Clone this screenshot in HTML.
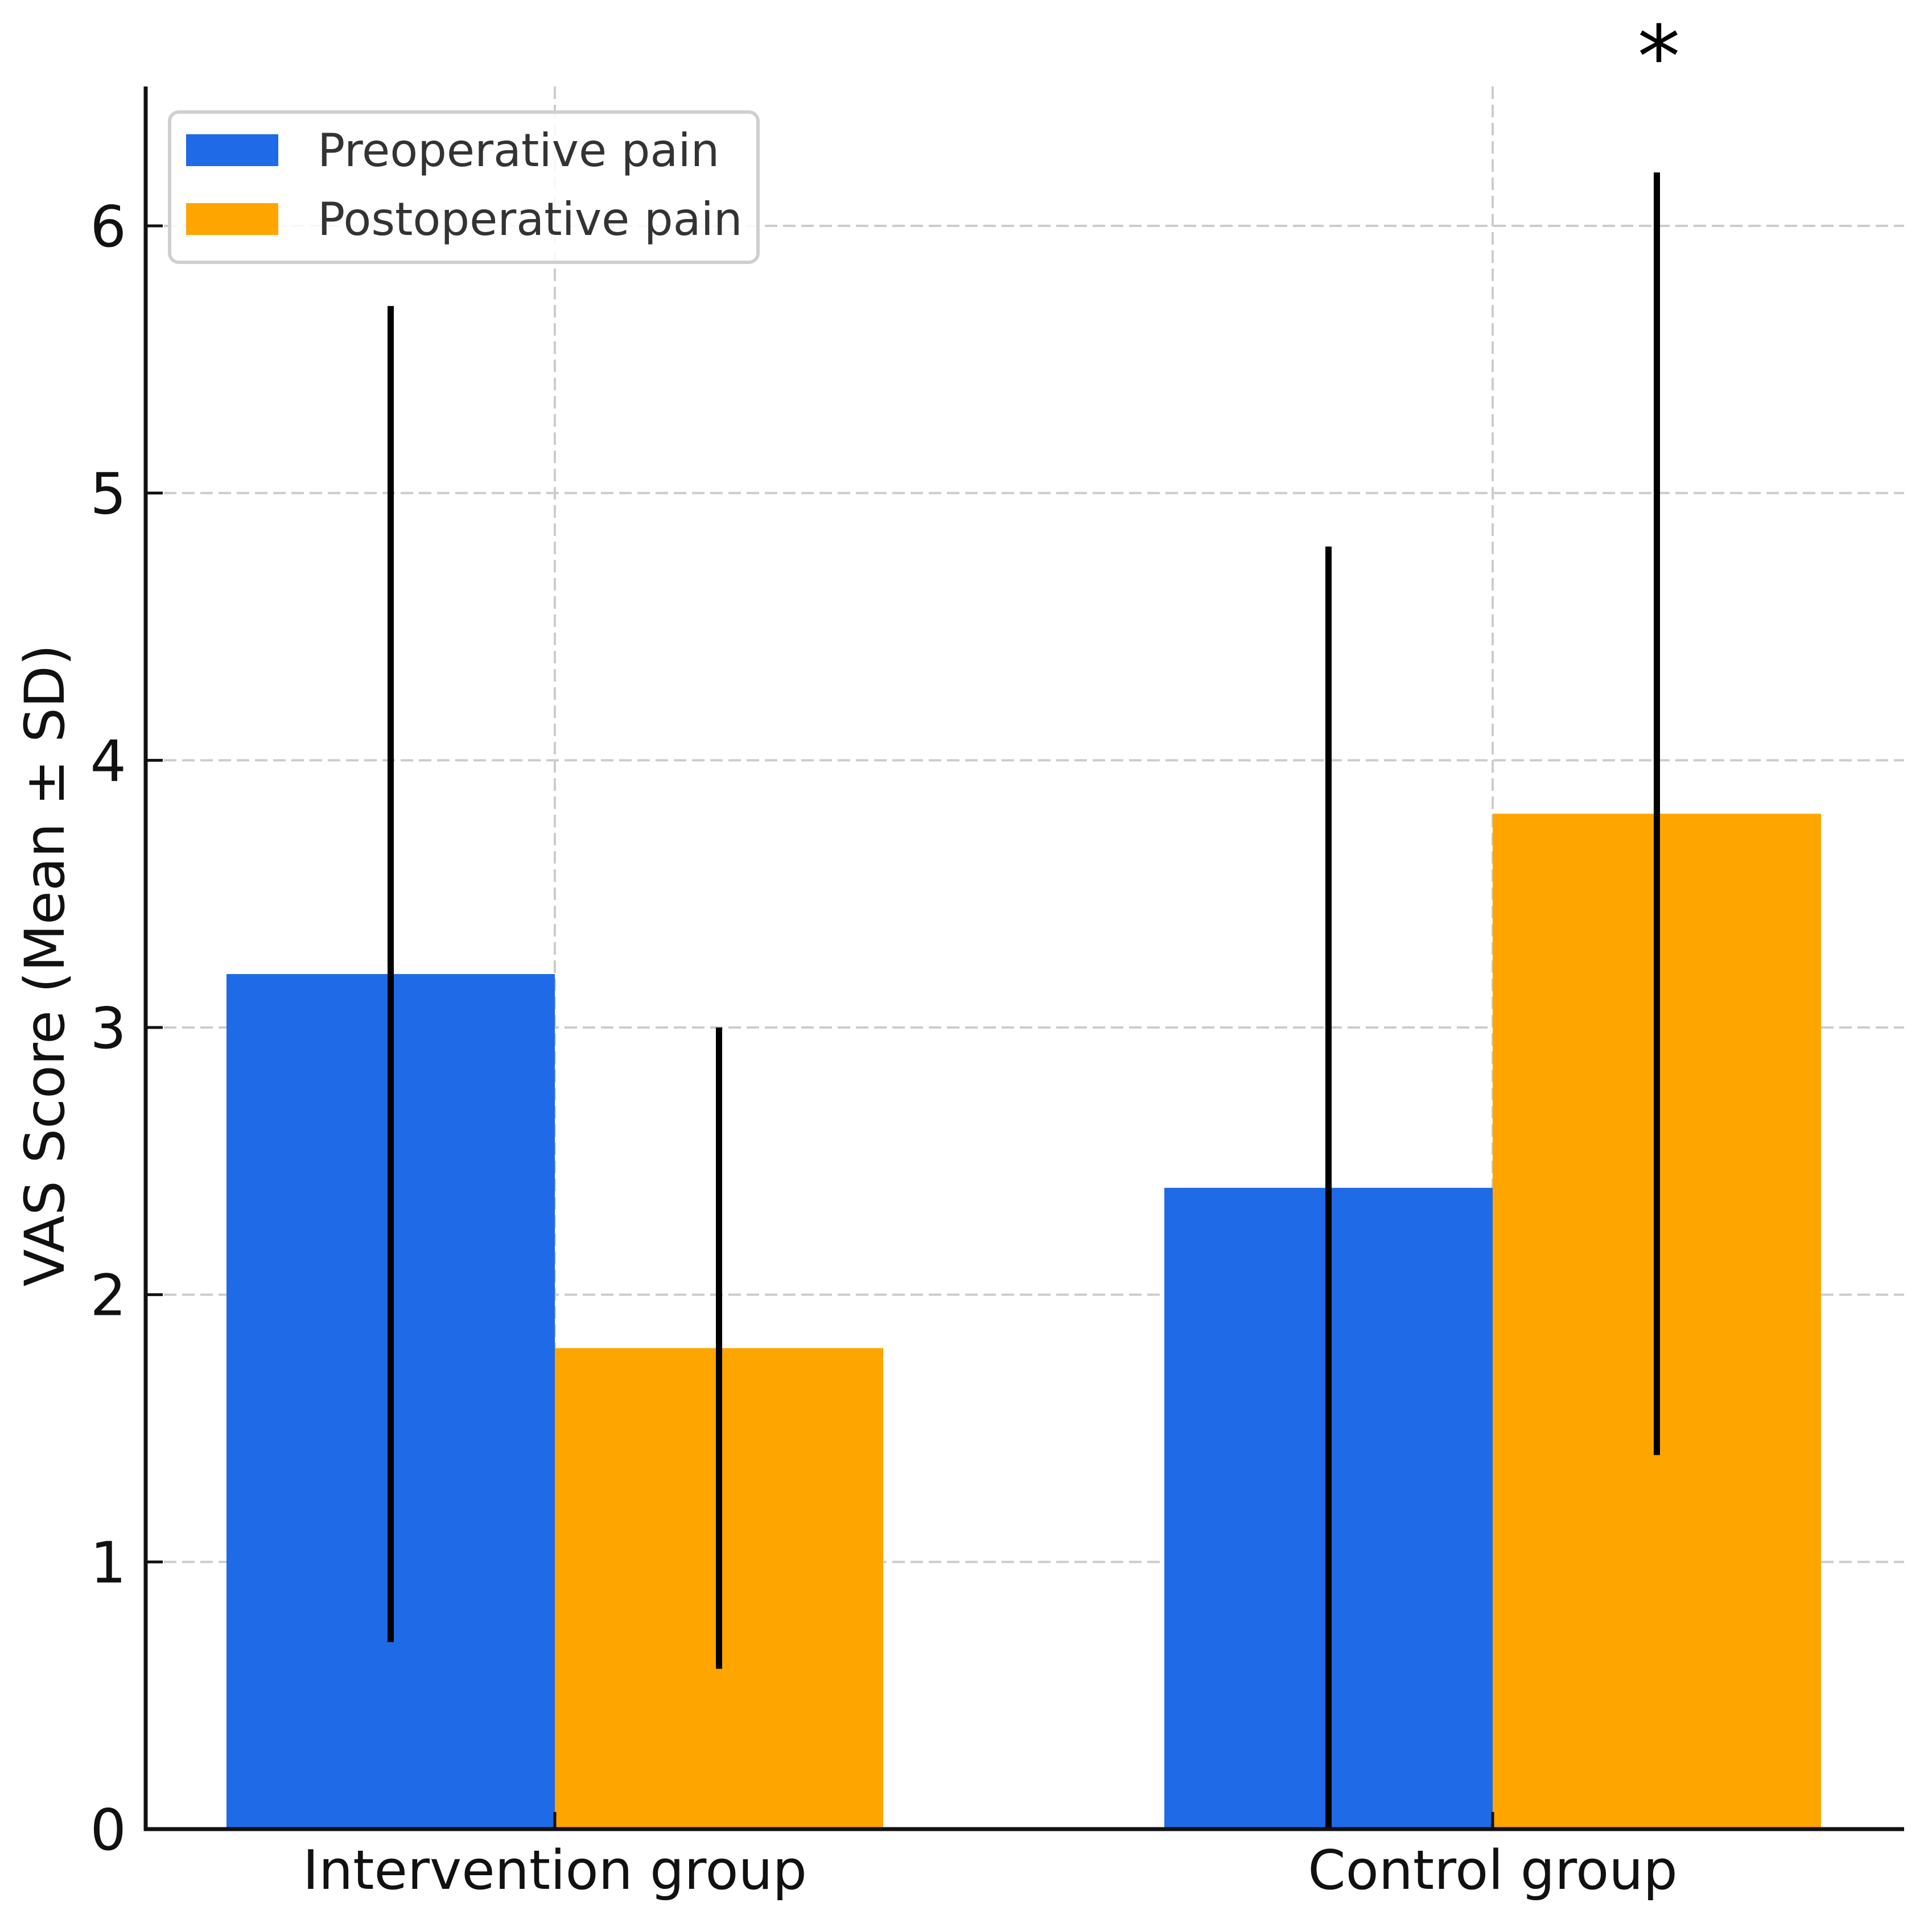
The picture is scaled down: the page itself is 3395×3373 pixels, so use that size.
<!DOCTYPE html>
<html><head><meta charset="utf-8"><style>
html,body{margin:0;padding:0;background:#fff;}
svg{display:block;font-family:"DejaVu Sans","Liberation Sans",sans-serif;}
</style></head><body>
<svg id="chart" width="3395" height="3373" viewBox="0 0 3395 3373" xmlns="http://www.w3.org/2000/svg">
<g id="grid"></g>
<g id="bars"></g>
<g id="errs"></g>
<g id="axes"></g>
<text x="2915" y="152" font-size="150" text-anchor="middle" fill="#000">*</text>
<text transform="translate(112,1697) rotate(-90)" font-size="96" text-anchor="middle" fill="#111">VAS Score (Mean ± SD)</text>
<g>
<rect x="298" y="197" width="1034" height="264" rx="16" fill="#fff" fill-opacity="0.85" stroke="#cfcfcf" stroke-width="6"/>
<rect x="327" y="236" width="162" height="56" fill="#1f6ae6"/>
<text x="558" y="292" font-size="80" fill="#333">Preoperative pain</text>
<rect x="327" y="357" width="162" height="56" fill="#ffa500"/>
<text x="558" y="413" font-size="80" fill="#333">Postoperative pain</text>
</g>
</svg>
<script>
const categories = ["Intervention group", "Control group"];
const preMeans = [3.2, 2.4];
const preSD = [2.5, 2.4];
const postMeans = [1.8, 3.8];
const postSD = [1.2, 2.4];
const yTicks = [0, 1, 2, 3, 4, 5, 6];

const NS = "http://www.w3.org/2000/svg";
const x0 = 256, x1 = 3346, yZero = 3215, yTop = 152;
const unitY = (yZero - 397) / 6;
const y = v => yZero - v * unitY;
const xc = i => 975 + i * 1648;
const barW = 577;
function mk(tag, attrs, parent) {
  const e = document.createElementNS(NS, tag);
  for (const k in attrs) e.setAttribute(k, attrs[k]);
  parent.appendChild(e);
  return e;
}
const grid = document.getElementById("grid");
const bars = document.getElementById("bars");
const errs = document.getElementById("errs");
const axes = document.getElementById("axes");

yTicks.forEach(t => {
  if (t > 0) {
    const g = mk("line", {x1: x0, x2: x1, y1: y(t), y2: y(t), stroke: "#cccccc", "stroke-width": 4, "stroke-dasharray": "22 10"}, grid);
    
    
  }
  const tk = mk("line", {x1: x0, x2: x0 + 30, y1: y(t), y2: y(t), stroke: "#111", "stroke-width": 5}, axes);
  
  
  const lb = mk("text", {x: 222, y: y(t) + 36, "font-size": 100, "text-anchor": "end", fill: "#111"}, axes);
  lb.textContent = t;
  
  
});
categories.forEach((c, i) => {
  const g = mk("line", {x1: xc(i), x2: xc(i), y1: yTop, y2: yZero, stroke: "#cccccc", "stroke-width": 4, "stroke-dasharray": "22 10"}, grid);
  
  
  const series = [[preMeans, preSD, "#1f6ae6", "pre", -1], [postMeans, postSD, "#ffa500", "post", 0]];
  series.forEach(s => {
    const left = xc(i) + s[4] * barW;
    const b = mk("rect", {x: left, y: y(s[0][i]), width: barW, height: y(0) - y(s[0][i]), fill: s[2]}, bars);
    
    
    const cx = left + barW / 2;
    const e = mk("line", {x1: cx, x2: cx, y1: y(s[0][i] + s[1][i]), y2: y(Math.max(0, s[0][i] - s[1][i])), stroke: "#000", "stroke-width": 11}, errs);
    
    
  });
  const tk = mk("line", {x1: xc(i), x2: xc(i), y1: yZero, y2: yZero - 30, stroke: "#111", "stroke-width": 5}, axes);
  
  
  const lb = mk("text", {x: xc(i), y: 3320, "font-size": 95, "text-anchor": "middle", fill: "#111"}, axes);
  lb.textContent = c;
  
  
});
const ya = mk("line", {x1: x0, x2: x0, y1: yTop, y2: yZero + 3, stroke: "#111", "stroke-width": 7}, axes);


const xa = mk("line", {x1: x0 - 3, x2: x1, y1: yZero, y2: yZero, stroke: "#111", "stroke-width": 7}, axes);


</script>
</body></html>
